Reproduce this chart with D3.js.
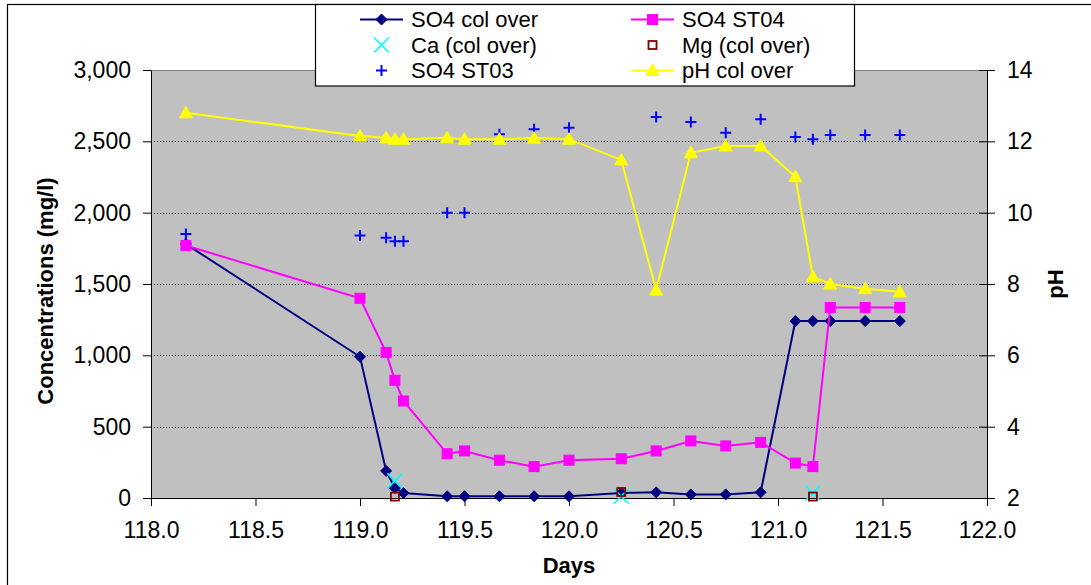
<!DOCTYPE html>
<html>
<head>
<meta charset="utf-8">
<script src="https://cdn.jsdelivr.net/npm/d3@7"></script>
<style>
  html, body { margin: 0; padding: 0; background: #fff; }
  svg { display: block; font-family: "Liberation Sans", Arial, sans-serif; }
</style>
</head>
<body>
<svg id="chart" width="1091" height="585"></svg>
<script>
// ---- data ----
const days = [118.167, 119.0, 119.125, 119.167, 119.208, 119.417, 119.5, 119.667, 119.833, 120.0,
              120.25, 120.417, 120.583, 120.75, 120.917, 121.083, 121.167, 121.25, 121.417, 121.583];
const so4ColOver = [1780, 990, 190, 70, 35, 12, 12, 12, 12, 12, 35, 40, 25, 25, 40, 1240, 1240, 1240, 1240, 1240];
const so4ST04 = [1770, 1400, 1020, 825, 680, 310, 330, 265, 220, 265, 275, 330, 400, 365, 390, 245, 220, 1335, 1335, 1335];
const so4ST03 = [1850, 1840, 1825, 1800, 1800, 2000, 2000, 2550, 2585, 2595, null, 2670, 2635, 2560, 2655, 2530, 2515, 2545, 2545, 2545];
const phColOver = [12.8, 12.15, 12.1, 12.06, 12.06, 12.1, 12.06, 12.06, 12.09, 12.06, 11.48, 7.83, 11.68, 11.87, 11.87, 11.01, 8.2, 8.0, 7.87, 7.78];
const caDays = [119.167, 120.25, 121.167];
const caColOver = [120, 12, 35];
const mgDays = [119.167, 120.25, 121.167];
const mgColOver = [10, 42, 10];

const xTicks = [118.0, 118.5, 119.0, 119.5, 120.0, 120.5, 121.0, 121.5, 122.0];
const yLeftTicks = [0, 500, 1000, 1500, 2000, 2500, 3000];
const yRightTicks = [2, 4, 6, 8, 10, 12, 14];
const legendNames = ["SO4 col over", "SO4 ST04", "Ca (col over)", "Mg (col over)", "SO4 ST03", "pH col over"];

// ---- layout ----
const svg = d3.select("#chart");
const L = 151, R = 987, T = 70, B = 498;
const x = d3.scaleLinear().domain([118, 122]).range([L, R]);
const yL = d3.scaleLinear().domain([0, 3000]).range([B, T]);
const yR = d3.scaleLinear().domain([2, 14]).range([B, T]);
const FONT = 23;
const LEGFONT = 22;

// outer frame
svg.append("rect").attr("x", 7.5).attr("y", 4.5).attr("width", 1200).attr("height", 700)
  .attr("fill", "#fff").attr("stroke", "#000").attr("stroke-width", 1.2);

// plot area
svg.append("rect").attr("x", L).attr("y", T).attr("width", R - L).attr("height", B - T)
  .attr("fill", "#C0C0C0");
svg.append("line").attr("x1", L).attr("x2", R).attr("y1", T + 0.5).attr("y2", T + 0.5)
  .attr("stroke", "#808080").attr("stroke-width", 1);

// gridlines
svg.append("g").selectAll("line").data(yLeftTicks.filter(v => v > 0 && v < 3000)).join("line")
  .attr("x1", L).attr("x2", R)
  .attr("y1", d => Math.round(yL(d)) + 0.5).attr("y2", d => Math.round(yL(d)) + 0.5)
  .attr("stroke", "#000").attr("stroke-width", 1).attr("stroke-dasharray", "1,2");

// axes
const fmtComma = d3.format(",");
const gx = svg.append("g").attr("transform", `translate(0,${B})`)
  .call(d3.axisBottom(x).tickValues(xTicks).tickFormat(d3.format(".1f")).tickSizeInner(8).tickSizeOuter(0).tickPadding(16));
const gl = svg.append("g").attr("transform", `translate(${L},0)`)
  .call(d3.axisLeft(yL).tickValues(yLeftTicks).tickFormat(fmtComma).tickSizeInner(8).tickSizeOuter(0).tickPadding(12));
const gr = svg.append("g").attr("transform", `translate(${R},0)`)
  .call(d3.axisRight(yR).tickValues(yRightTicks).tickSizeInner(8).tickSizeOuter(0).tickPadding(12));
gr.selectAll(".tick line").attr("x1", -8).attr("x2", 8);
[gx, gl, gr].forEach(g => {
  g.selectAll("text").attr("font-size", FONT).attr("fill", "#000")
    .attr("font-family", "'Liberation Sans', Arial, sans-serif");
  g.selectAll("line, path").attr("stroke", "#000");
});

// axis titles
svg.append("text").attr("transform", `translate(53,291) rotate(-90)`).attr("text-anchor", "middle")
  .attr("font-size", 22).attr("font-weight", "bold").text("Concentrations (mg/l)");
svg.append("text").attr("transform", `translate(1063,284) rotate(-90)`).attr("text-anchor", "middle")
  .attr("font-size", 22).attr("font-weight", "bold").text("pH");
svg.append("text").attr("x", (L + R) / 2).attr("y", 573).attr("text-anchor", "middle")
  .attr("font-size", 22).attr("font-weight", "bold").text("Days");

// marker helpers
function diamond(g, cx, cy, color) {
  const s = 5.5;
  g.append("path").attr("d", `M${cx},${cy - s}L${cx + s},${cy}L${cx},${cy + s}L${cx - s},${cy}Z`).attr("fill", color).attr("stroke", color);
}
function square(g, cx, cy, color) {
  const s = 5;
  g.append("rect").attr("x", cx - s).attr("y", cy - s).attr("width", 2 * s).attr("height", 2 * s).attr("fill", color).attr("stroke", color);
}
function openSquare(g, cx, cy, color) {
  const s = 4;
  g.append("rect").attr("x", cx - s).attr("y", cy - s).attr("width", 2 * s).attr("height", 2 * s).attr("fill", "none").attr("stroke", color).attr("stroke-width", 1.8);
}
function cross(g, cx, cy, color, s) {
  g.append("path").attr("d", `M${cx - s},${cy - s}L${cx + s},${cy + s}M${cx - s},${cy + s}L${cx + s},${cy - s}`).attr("stroke", color).attr("stroke-width", 1.6).attr("fill", "none");
}
function plus(g, cx, cy, color, s) {
  g.append("path").attr("d", `M${cx - s},${cy}L${cx + s},${cy}M${cx},${cy - s}L${cx},${cy + s}`).attr("stroke", color).attr("stroke-width", 2).attr("fill", "none");
}
function triangle(g, cx, cy, color) {
  g.append("path").attr("d", `M${cx},${cy - 6.5}L${cx + 6.5},${cy + 5}L${cx - 6.5},${cy + 5}Z`).attr("fill", color).attr("stroke", color);
}

const NAVY = "#000080", MAG = "#FF00FF", CYAN = "#00FFFF", DRED = "#800000", BLUE = "#0000FF", YEL = "#FFFF00";
const marks = svg.append("g");

// series 1: SO4 col over
const s1 = days.map((d, i) => [d, so4ColOver[i]]);
marks.append("path").datum(s1).attr("fill", "none").attr("stroke", NAVY).attr("stroke-width", 2)
  .attr("d", d3.line().x(d => x(d[0])).y(d => yL(d[1])));
s1.forEach(d => diamond(marks, x(d[0]), yL(d[1]), NAVY));

// series 2: SO4 ST04
const s2 = days.map((d, i) => [d, so4ST04[i]]);
marks.append("path").datum(s2).attr("fill", "none").attr("stroke", MAG).attr("stroke-width", 2)
  .attr("d", d3.line().x(d => x(d[0])).y(d => yL(d[1])));
s2.forEach(d => square(marks, x(d[0]), yL(d[1]), MAG));

// series 3: Ca
caDays.forEach((d, i) => cross(marks, x(d), yL(caColOver[i]), CYAN, 7.5));
// series 4: Mg
mgDays.forEach((d, i) => openSquare(marks, x(d), yL(mgColOver[i]), DRED));
// series 5: SO4 ST03
days.forEach((d, i) => { if (so4ST03[i] != null) plus(marks, x(d), yL(so4ST03[i]), BLUE, 5.5); });

// series 6: pH
const s6 = days.map((d, i) => [d, phColOver[i]]);
marks.append("path").datum(s6).attr("fill", "none").attr("stroke", YEL).attr("stroke-width", 2)
  .attr("d", d3.line().x(d => x(d[0])).y(d => yR(d[1])));
s6.forEach(d => triangle(marks, x(d[0]), yR(d[1]), YEL));

// legend
const lg = svg.append("g");
lg.append("rect").attr("x", 315.5).attr("y", 4.5).attr("width", 539).attr("height", 81.5)
  .attr("fill", "#fff").attr("stroke", "#000").attr("stroke-width", 1.2);
const colX = [360, 631];
const rowY = [19.5, 45, 70.5];
legendNames.forEach((name, i) => {
  const col = i % 2, row = Math.floor(i / 2);
  const x0 = colX[col], yy = rowY[row], cx = x0 + 21.5;
  if (i === 0) { lg.append("line").attr("x1", x0).attr("x2", x0 + 43).attr("y1", yy).attr("y2", yy).attr("stroke", NAVY).attr("stroke-width", 2); diamond(lg, cx, yy, NAVY); }
  if (i === 1) { lg.append("line").attr("x1", x0).attr("x2", x0 + 43).attr("y1", yy).attr("y2", yy).attr("stroke", MAG).attr("stroke-width", 2); square(lg, cx, yy, MAG); }
  if (i === 2) cross(lg, cx, yy, CYAN, 7.5);
  if (i === 3) openSquare(lg, cx, yy, DRED);
  if (i === 4) plus(lg, cx, yy, BLUE, 5.5);
  if (i === 5) { lg.append("line").attr("x1", x0).attr("x2", x0 + 43).attr("y1", yy).attr("y2", yy).attr("stroke", YEL).attr("stroke-width", 2); triangle(lg, cx, yy, YEL); }
  lg.append("text").attr("x", x0 + 51).attr("y", yy).attr("dy", "0.35em")
    .attr("font-size", LEGFONT).attr("fill", "#000").text(name);
});
</script>
</body>
</html>
